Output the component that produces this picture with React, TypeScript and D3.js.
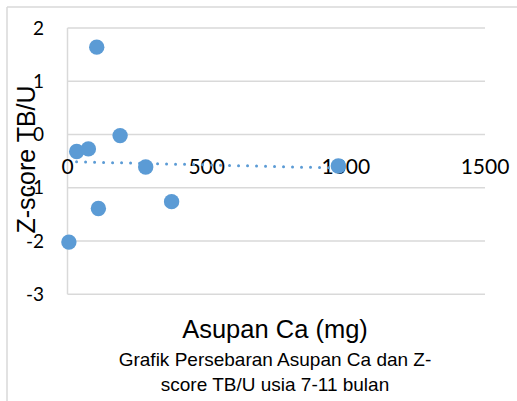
import React from "react";
import * as d3 from "d3";

const intakeCa = [105, 189, 33, 75, 281, 374, 111, 5, 973];
const zScore = [1.64, -0.02, -0.32, -0.27, -0.61, -1.26, -1.39, -2.02, -0.59];
const xTicks = [0, 500, 1000, 1500];
const yTicks = [-3, -2, -1, 0, 1, 2];
const xTitle = "Asupan Ca (mg)";
const yTitle = "Z-score TB/U";
const subtitleLines = ["Grafik Persebaran Asupan Ca dan Z-", "score TB/U usia 7-11 bulan"];

const W = 517;
const H = 401;
const BLUE = "#5b9bd5";
const GRID = "#d9d9d9";

export default function App() {
  const x = d3.scaleLinear().domain([0, 1500]).range([67.5, 485]);
  const y = d3.scaleLinear().domain([-3, 2]).range([294.3, 28]);

  const pts = intakeCa.map((v, i) => ({ x: v, y: zScore[i] }));
  const mx = d3.mean(intakeCa) as number;
  const my = d3.mean(zScore) as number;
  const sxy = d3.sum(pts, (p) => (p.x - mx) * (p.y - my));
  const sxx = d3.sum(pts, (p) => (p.x - mx) * (p.x - mx));
  const slope = sxy / sxx;
  const icpt = my - slope * mx;
  const [x0, x1] = d3.extent(intakeCa) as [number, number];
  const trend = d3.line<number>().x((v) => x(v)).y((v) => y(icpt + slope * v))([x0, x1]) as string;

  return (
    <svg width={W} height={H} style={{ position: "absolute", left: 0, top: 0, background: "#fff" }}>
      <rect x={0} y={0} width={W} height={H} fill="#fff" />
      <line x1={7} y1={7} x2={W} y2={7} stroke={GRID} strokeWidth={1.5} />
      <line x1={7} y1={7} x2={7} y2={H} stroke={GRID} strokeWidth={1.5} />
      {yTicks.map((t) => (
        <line key={"g" + t} x1={x(0)} x2={x(1500)} y1={y(t)} y2={y(t)} stroke={GRID} strokeWidth={1.5} />
      ))}
      <line x1={x(0)} x2={x(0)} y1={y(2)} y2={y(-3)} stroke={GRID} strokeWidth={1.5} />
      {yTicks.map((t) => (
        <text key={"yl" + t} x={44} y={y(t)} dy="0.35em" textAnchor="end" fontFamily="Lato, sans-serif" fontSize={19} fill="#000">
          {d3.format("d")(t).replace("−", "-")}
        </text>
      ))}
      {xTicks.map((t) => (
        <text key={"xl" + t} x={x(t)} y={174} textAnchor="middle" fontFamily="Lato, sans-serif" fontSize={21} fill="#000">
          {t}
        </text>
      ))}
      <path d={trend} fill="none" stroke={BLUE} strokeWidth={3} strokeLinecap="round" strokeDasharray="0 9" strokeDashoffset={1.3} />
      {pts.map((p, i) => (
        <circle key={"p" + i} cx={x(p.x)} cy={y(p.y)} r={7.7} fill={BLUE} />
      ))}
      <text transform={`translate(35,159.5) rotate(-90)`} textAnchor="middle" fontFamily="'Liberation Sans', Arial, sans-serif" fontSize={25} fill="#000">
        {yTitle}
      </text>
      <text x={275} y={338} textAnchor="middle" fontFamily="'Liberation Sans', Arial, sans-serif" fontSize={25.5} fill="#000">
        {xTitle}
      </text>
      {subtitleLines.map((s, i) => (
        <text key={"s" + i} x={275} y={366 + i * 25} textAnchor="middle" fontFamily="'Liberation Sans', Arial, sans-serif" fontSize={19} fill="#000">
          {s}
        </text>
      ))}
    </svg>
  );
}
